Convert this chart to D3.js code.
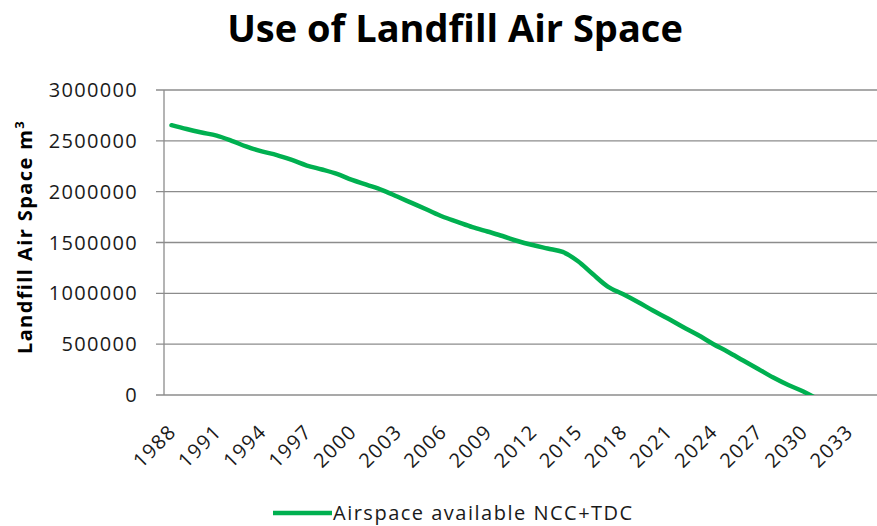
<!DOCTYPE html>
<html>
<head>
<meta charset="utf-8">
<script src="https://cdn.jsdelivr.net/npm/d3@7"></script>
<style>
  body { margin: 0; background: #fff; }
  svg { font-family: "Open Sans", Lato, sans-serif; font-variant-ligatures: none; }
  .grid line { stroke: #8c8c8c; stroke-width: 1.3; }
  .axis-line { stroke: #8c8c8c; stroke-width: 1.3; }
  .tick-label { font-size: 20px; fill: #1a1a1a; letter-spacing: 1.3px; }
</style>
</head>
<body>
<svg id="chart"></svg>
<script>
// categories on the x axis (one per year)
const years = [1988, 1989, 1990, 1991, 1992, 1993, 1994, 1995, 1996, 1997,
  1998, 1999, 2000, 2001, 2002, 2003, 2004, 2005, 2006, 2007,
  2008, 2009, 2010, 2011, 2012, 2013, 2014, 2015, 2016, 2017,
  2018, 2019, 2020, 2021, 2022, 2023, 2024, 2025, 2026, 2027,
  2028, 2029, 2030, 2031, 2032, 2033];

// airspace available, m3 (series stops after it crosses zero)
const airspace = [2654000, 2616000, 2582000, 2551000, 2500000, 2442000, 2396000, 2360000, 2312000, 2257000,
  2218000, 2174000, 2115000, 2066000, 2016000, 1952000, 1887000, 1822000, 1756000, 1704000,
  1652000, 1608000, 1564000, 1515000, 1475000, 1441000, 1407000, 1318000, 1190000, 1067000,
  993000, 915000, 831000, 752000, 669000, 590000, 502000, 423000, 339000, 256000,
  172000, 98000, 35000, -45000];

const xTickLabels = [1988, 1991, 1994, 1997, 2000, 2003, 2006, 2009, 2012, 2015,
  2018, 2021, 2024, 2027, 2030, 2033];
const yTicks = [0, 500000, 1000000, 1500000, 2000000, 2500000, 3000000];

const seriesName = 'Airspace available NCC+TDC';
const chartTitle = 'Use of Landfill Air Space';

const W = 877, H = 526;
const margin = { top: 90, left: 164, right: 0, bottom: 131 };
const plotW = W - margin.left - margin.right;
const plotH = H - margin.top - margin.bottom;
const bandW = 692;

const svg = d3.select('#chart').attr('width', W).attr('height', H);

svg.append('text')
  .attr('x', 455).attr('y', 42)
  .attr('text-anchor', 'middle')
  .style('font-size', '38px').style('font-weight', 'bold')
  .text(chartTitle);

const g = svg.append('g').attr('transform', `translate(${margin.left},${margin.top})`);

const x = d3.scaleBand().domain(years).range([0, bandW]);
const y = d3.scaleLinear().domain([0, 3000000]).range([plotH, 0]);

// gridlines + y tick marks
g.append('g').attr('class', 'grid')
  .selectAll('line').data(yTicks).join('line')
  .attr('x1', -8).attr('x2', plotW)
  .attr('y1', d => y(d)).attr('y2', d => y(d));

g.append('line').attr('class', 'axis-line')
  .attr('x1', 0).attr('x2', 0).attr('y1', 0).attr('y2', plotH);

g.selectAll('.ylab').data(yTicks).join('text')
  .attr('class', 'tick-label ylab')
  .attr('x', -26).attr('y', d => y(d))
  .attr('dy', '0.35em')
  .attr('text-anchor', 'end')
  .text(d => d);

g.selectAll('.xlab').data(xTickLabels).join('text')
  .attr('class', 'tick-label xlab')
  .attr('text-anchor', 'end')
  .attr('transform', d => `translate(${x(d) + x.bandwidth() / 2 + 6},${plotH + 38}) rotate(-45)`)
  .text(d => d);

// y axis title
svg.append('text')
  .attr('transform', 'translate(32,237) rotate(-90)')
  .attr('text-anchor', 'middle')
  .style('font-size', '20px').style('font-weight', 'bold').style('letter-spacing', '1.4px')
  .html('Landfill Air Space m<tspan dy="-8" font-size="13px">3</tspan>');

// clip to plot area like the spreadsheet does
svg.append('clipPath').attr('id', 'plotclip')
  .append('rect').attr('x', 0).attr('y', 0).attr('width', plotW).attr('height', plotH);

const line = d3.line()
  .x((d, i) => x(years[i]) + x.bandwidth() / 2)
  .y(d => y(d))
  .curve(d3.curveCatmullRom.alpha(0.5));

g.append('path')
  .datum(airspace)
  .attr('clip-path', 'url(#plotclip)')
  .attr('fill', 'none')
  .attr('stroke', '#00b050')
  .attr('stroke-width', 4.5)
  .attr('stroke-linecap', 'round')
  .attr('stroke-linejoin', 'round')
  .attr('d', line);

// legend
const lg = svg.append('g').attr('transform', 'translate(273,513)');
lg.append('line').attr('x1', 0).attr('x2', 59).attr('y1', 0).attr('y2', 0)
  .attr('stroke', '#00b050').attr('stroke-width', 4.5);
lg.append('text').attr('x', 60).attr('y', 0).attr('dy', '0.35em')
  .style('font-size', '20px').style('fill', '#1a1a1a').style('letter-spacing', '1.5px')
  .text(seriesName);
</script>
</body>
</html>
